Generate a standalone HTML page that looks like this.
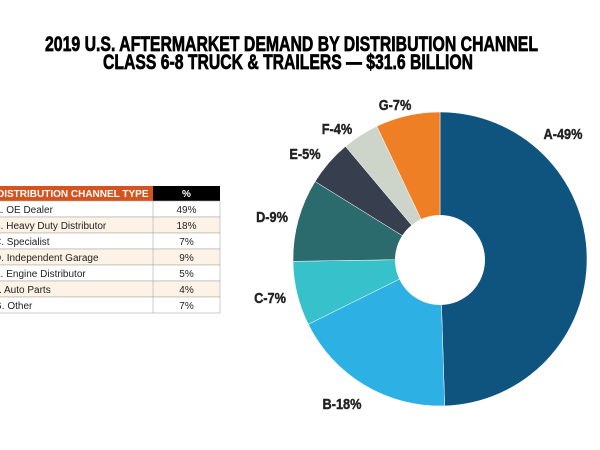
<!DOCTYPE html>
<html><head><meta charset="utf-8"><style>
body{margin:0;background:#fff;width:600px;height:450px;overflow:hidden;font-family:"Liberation Sans",sans-serif}
svg{display:block}
</style></head><body>
<svg id="chart" width="600" height="450">
<text x="45" y="51" font-size="21" font-weight="bold" stroke="#000" stroke-width="0.7" textLength="493" lengthAdjust="spacingAndGlyphs">2019 U.S. AFTERMARKET DEMAND BY DISTRIBUTION CHANNEL</text>
<text x="103" y="69" font-size="21" font-weight="bold" stroke="#000" stroke-width="0.7" textLength="370" lengthAdjust="spacingAndGlyphs">CLASS 6-8 TRUCK &amp; TRAILERS — $31.6 BILLION</text>
<g id="table"></g>
<g id="pie"></g>
<circle cx="440" cy="260" r="45" fill="#fff"/>
<g id="labels"></g>
</svg>
<script>
const letters=["A","B","C","D","E","F","G"];
const channelNames=["A. OE Dealer","B. Heavy Duty Distributor","C. Specialist","D. Independent Garage","E. Engine Distributor","F. Auto Parts","G. Other"];
const shares=[49,18,7,9,5,4,7];
const colors=["#0f537f","#2db0e4","#37c1cb","#2c6b6d","#373f4e","#cdd5ca","#ef7f24"];
const labelX=[563,342,270,272,305,337,395];
const labelY=[139,409,303,222,159,134,110];
const NS="http://www.w3.org/2000/svg";
function mk(tag,attrs,parent){const e=document.createElementNS(NS,tag);for(const k in attrs)e.setAttribute(k,attrs[k]);parent.appendChild(e);return e;}
const cx=440,cy=259,R=147;
const total=shares.reduce((a,b)=>a+b,0);
const pie=document.getElementById('pie');
let a0=0;
shares.forEach((v,i)=>{
  const a1=a0+v/total*2*Math.PI;
  const p=(a)=>[cx+R*Math.sin(a),cy-R*Math.cos(a)];
  const [x0,y0]=p(a0),[x1,y1]=p(a1);
  const large=(a1-a0)>Math.PI?1:0;
  const path=mk('path',{d:`M${cx},${cy}L${x0},${y0}A${R},${R} 0 ${large} 1 ${x1},${y1}Z`,fill:colors[i],stroke:'#fff','stroke-width':0.5},pie);
  
  
  a0=a1;
});
const lab=document.getElementById('labels');
shares.forEach((v,i)=>{
  const t=mk('text',{x:labelX[i],y:labelY[i],'font-size':15,'font-weight':'bold','text-anchor':'middle',fill:'#222',stroke:'#222','stroke-width':0.4,transform:`translate(${labelX[i]} 0) scale(0.85 1) translate(${-labelX[i]} 0)`},lab);
  t.textContent=letters[i]+'-'+v+'%';
  
  
});
const tb=document.getElementById('table');
const top0=186,hh=15,rh=16,x0=0,xs=153,xe=220;
let r=mk('rect',{x:x0,y:top0,width:xs,height:hh,fill:'#d4531e'},tb);

r=mk('rect',{x:xs,y:top0,width:xe-xs,height:hh,fill:'#000'},tb);

let t=mk('text',{x:-3,y:top0+11,'font-size':10,'font-weight':'bold',fill:'#fff'},tb);t.textContent='DISTRIBUTION CHANNEL TYPE';

t=mk('text',{x:(xs+xe)/2,y:top0+11,'font-size':10,'font-weight':'bold',fill:'#fff','text-anchor':'middle'},tb);t.textContent='%';

channelNames.forEach((n,i)=>{
  const y=top0+hh+i*rh;
  const row=mk('rect',{x:-1,y:y,width:xe+1,height:rh,fill:i%2?'#fcf3e6':'#fff',stroke:'#aaa','stroke-width':0.6},tb);
  
  
  mk('line',{x1:xs,y1:y,x2:xs,y2:y+rh,stroke:'#aaa','stroke-width':0.6},tb);
  const a=mk('text',{x:-6,y:y+12,'font-size':10,fill:'#222'},tb);a.textContent=n;
  
  const b=mk('text',{x:(xs+xe)/2,y:y+12,'font-size':10,fill:'#222','text-anchor':'middle'},tb);b.textContent=shares[i]+'%';
  
});
</script>
</body></html>
